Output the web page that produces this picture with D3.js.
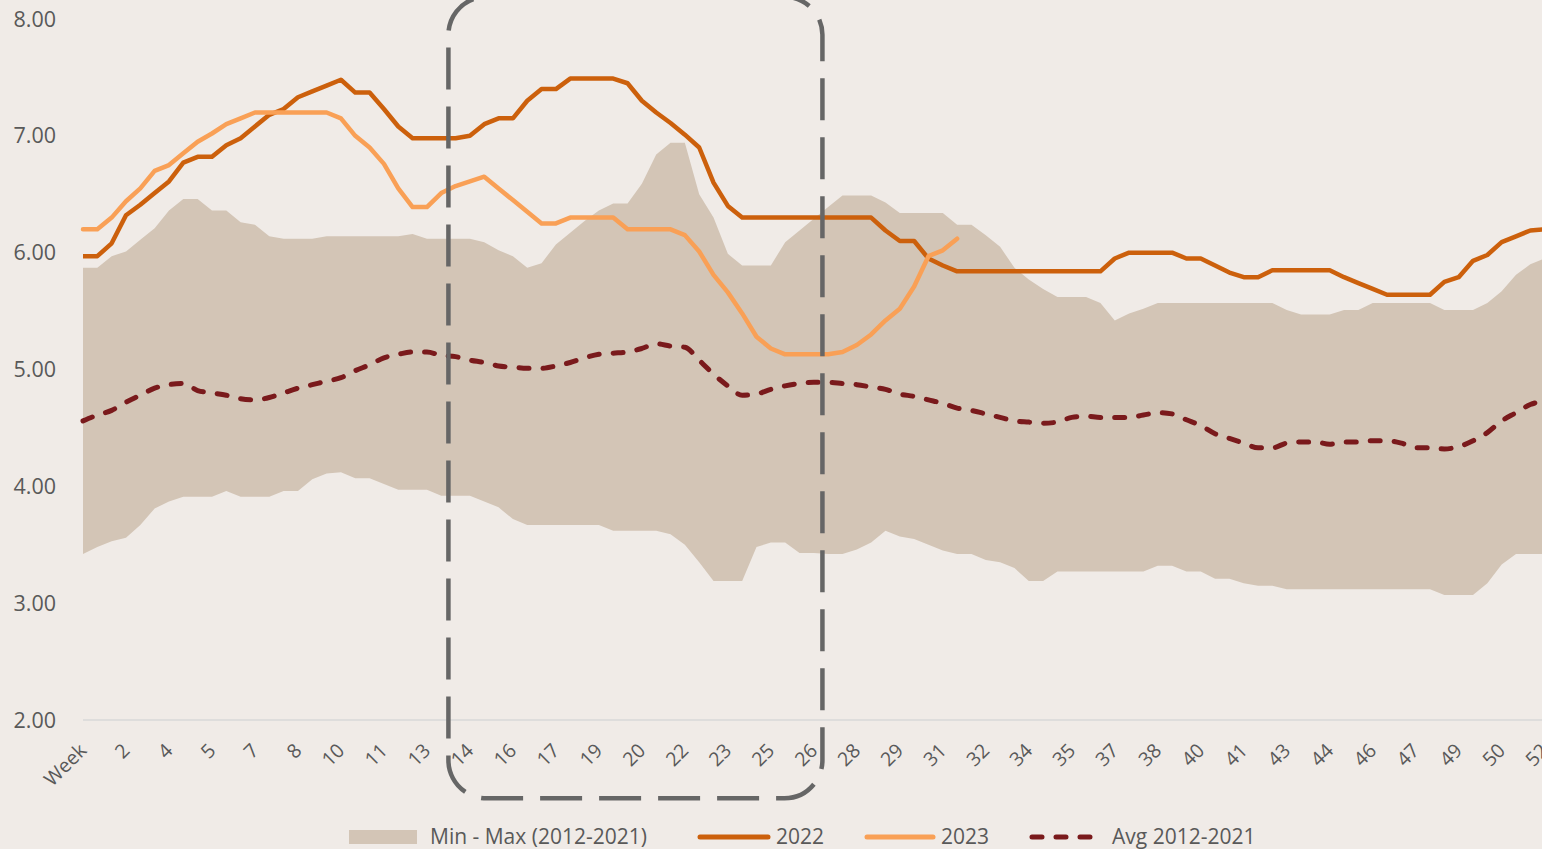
<!DOCTYPE html>
<html>
<head>
<meta charset="utf-8">
<script src="https://cdn.jsdelivr.net/npm/d3@7"></script>
<style>
  html, body { margin: 0; padding: 0; background: #F0EBE7; }
  svg { display: block; }
  text { font-family: "Open Sans", sans-serif; fill: #595959; }
</style>
</head>
<body>
<svg id="chart" width="1542" height="849"></svg>
<script>
"use strict";

var weeks = ["Week", "1", "2", "2", "3", "3", "4", "4", "5", "5", "6", "6", "7", "7", "8", "8", "9", "9",
  "10", "10", "11", "11", "12", "12", "13", "13", "14", "14", "15", "15", "16", "16", "17", "17",
  "18", "18", "19", "19", "20", "20", "21", "21", "22", "22", "23", "23", "24", "24", "25", "25",
  "26", "26", "27", "27", "28", "28", "29", "29", "30", "30", "31", "31", "32", "32", "33", "33",
  "34", "34", "35", "35", "36", "36", "37", "37", "38", "38", "39", "39", "40", "40", "41", "41",
  "42", "42", "43", "43", "44", "44", "45", "45", "46", "46", "47", "47", "48", "48", "49", "49",
  "50", "50", "51", "51", "52"];

var minValues = [3.42, 3.48, 3.53, 3.56, 3.67, 3.81, 3.87, 3.91, 3.91, 3.91, 3.96, 3.91, 3.91, 3.91, 3.96, 3.96, 4.06, 4.11,
  4.12, 4.07, 4.07, 4.02, 3.97, 3.97, 3.97, 3.92, 3.92, 3.92, 3.87, 3.82, 3.72, 3.67, 3.67, 3.67, 3.67, 3.67, 3.67,
  3.62, 3.62, 3.62, 3.62, 3.59, 3.50, 3.35, 3.19, 3.19, 3.19, 3.48, 3.52, 3.52, 3.43, 3.43, 3.42, 3.42, 3.46, 3.52,
  3.62, 3.57, 3.55, 3.50, 3.45, 3.42, 3.42, 3.37, 3.35, 3.30, 3.19, 3.19, 3.27, 3.27, 3.27, 3.27, 3.27, 3.27, 3.27,
  3.32, 3.32, 3.27, 3.27, 3.21, 3.21, 3.17, 3.15, 3.15, 3.12, 3.12, 3.12, 3.12, 3.12, 3.12, 3.12, 3.12, 3.12, 3.12,
  3.12, 3.07, 3.07, 3.07, 3.17, 3.33, 3.42, 3.42, 3.42];

var maxValues = [5.87, 5.87, 5.97, 6.01, 6.11, 6.21, 6.36, 6.46, 6.46, 6.36, 6.36, 6.26, 6.24, 6.14, 6.12, 6.12, 6.12, 6.14,
  6.14, 6.14, 6.14, 6.14, 6.14, 6.16, 6.12, 6.12, 6.12, 6.12, 6.09, 6.02, 5.97, 5.87, 5.91, 6.07, 6.17, 6.27, 6.36,
  6.42, 6.42, 6.59, 6.84, 6.94, 6.94, 6.50, 6.30, 5.99, 5.89, 5.89, 5.89, 6.09, 6.19, 6.29, 6.39, 6.49, 6.49, 6.49,
  6.43, 6.34, 6.34, 6.34, 6.34, 6.24, 6.24, 6.15, 6.05, 5.87, 5.77, 5.69, 5.62, 5.62, 5.62, 5.57, 5.42, 5.48, 5.52,
  5.57, 5.57, 5.57, 5.57, 5.57, 5.57, 5.57, 5.57, 5.57, 5.51, 5.47, 5.47, 5.47, 5.51, 5.51, 5.57, 5.57, 5.57, 5.57,
  5.57, 5.51, 5.51, 5.51, 5.57, 5.67, 5.81, 5.90, 5.95];

var avgValues = [4.56, 4.61, 4.65, 4.72, 4.78, 4.84, 4.87, 4.88, 4.82, 4.80, 4.78, 4.75, 4.74, 4.76, 4.80, 4.84, 4.87, 4.90,
  4.93, 4.99, 5.04, 5.10, 5.13, 5.15, 5.15, 5.12, 5.11, 5.08, 5.06, 5.03, 5.02, 5.01, 5.01, 5.03, 5.06, 5.10, 5.13,
  5.14, 5.15, 5.18, 5.22, 5.20, 5.19, 5.08, 4.96, 4.86, 4.78, 4.79, 4.83, 4.86, 4.88, 4.89, 4.89, 4.88, 4.87, 4.85,
  4.83, 4.79, 4.77, 4.74, 4.71, 4.67, 4.65, 4.62, 4.59, 4.56, 4.55, 4.54, 4.55, 4.59, 4.60, 4.59, 4.59, 4.59, 4.61,
  4.63, 4.62, 4.57, 4.52, 4.45, 4.41, 4.37, 4.33, 4.33, 4.37, 4.38, 4.38, 4.36, 4.38, 4.38, 4.39, 4.39, 4.37, 4.33,
  4.33, 4.32, 4.34, 4.39, 4.46, 4.56, 4.63, 4.70, 4.73];

var values2022 = [5.97, 5.97, 6.08, 6.32, 6.41, 6.51, 6.61, 6.77, 6.82, 6.82, 6.92, 6.98, 7.08, 7.18, 7.23, 7.33, 7.38, 7.43,
  7.48, 7.37, 7.37, 7.23, 7.08, 6.98, 6.98, 6.98, 6.98, 7.00, 7.10, 7.15, 7.15, 7.30, 7.40, 7.40, 7.49, 7.49, 7.49,
  7.49, 7.45, 7.30, 7.20, 7.11, 7.01, 6.90, 6.60, 6.40, 6.30, 6.30, 6.30, 6.30, 6.30, 6.30, 6.30, 6.30, 6.30, 6.30,
  6.19, 6.10, 6.10, 5.95, 5.89, 5.84, 5.84, 5.84, 5.84, 5.84, 5.84, 5.84, 5.84, 5.84, 5.84, 5.84, 5.95, 6.00, 6.00,
  6.00, 6.00, 5.95, 5.95, 5.89, 5.83, 5.79, 5.79, 5.85, 5.85, 5.85, 5.85, 5.85, 5.79, 5.74, 5.69, 5.64, 5.64, 5.64,
  5.64, 5.75, 5.79, 5.93, 5.98, 6.09, 6.14, 6.19, 6.20];

var values2023 = [6.20, 6.20, 6.30, 6.44, 6.55, 6.70, 6.75, 6.85, 6.95, 7.02, 7.10, 7.15, 7.20, 7.20, 7.20, 7.20, 7.20, 7.20,
  7.15, 7.00, 6.90, 6.76, 6.55, 6.39, 6.39, 6.51, 6.57, 6.61, 6.65, 6.55, 6.45, 6.35, 6.25, 6.25, 6.30, 6.30, 6.30,
  6.30, 6.20, 6.20, 6.20, 6.20, 6.15, 6.01, 5.81, 5.66, 5.48, 5.28, 5.18, 5.13, 5.13, 5.13, 5.13, 5.15, 5.21, 5.30,
  5.42, 5.52, 5.71, 5.97, 6.02, 6.12];

var yTicks = [2, 3, 4, 5, 6, 7, 8];
// dashed highlight box, in category index / value units
var highlightBox = { from: 25.5, to: 51.6, top: 8.19, bottom: 1.33 };

var COLOR_BAND = "#D3C5B6";
var COLOR_2022 = "#CC600C";
var COLOR_2023 = "#F9A056";
var COLOR_AVG = "#7A1A1C";

var svg = d3.select("#chart");

var x = d3.scaleLinear().domain([0, weeks.length - 1]).range([83, 83 + 102 * 14.33]);
var y = d3.scaleLinear().domain([2, 8]).range([720, 19]);

// band
var area = d3.area()
    .x(function (d, i) { return x(i); })
    .y0(function (d, i) { return y(minValues[i]); })
    .y1(function (d) { return y(d); });

svg.append("path")
  .datum(maxValues)
  .attr("fill", COLOR_BAND)
  .attr("d", area);

// axes
svg.append("line")
  .attr("x1", x(0)).attr("x2", 1542)
  .attr("y1", y(2)).attr("y2", y(2))
  .attr("stroke", "#D9D9D9")
  .attr("stroke-width", 1.5);

svg.append("g")
  .selectAll("text")
  .data(yTicks)
  .enter()
  .append("text")
  .attr("x", 56)
  .attr("y", function (d) { return y(d); })
  .attr("dy", "0.35em")
  .attr("text-anchor", "end")
  .style("font-size", "21.5px")
  .text(d3.format(".2f"));

var tickIdx = d3.range(0, weeks.length, 3);
svg.append("g")
  .selectAll("text")
  .data(tickIdx)
  .enter()
  .append("text")
  .attr("transform", function (d) { return "translate(" + x(d) + ",747) rotate(-45)"; })
  .attr("dy", "0.35em")
  .attr("text-anchor", "end")
  .style("font-size", "19.5px")
  .text(function (d) { return weeks[d]; });

// lines
var lineGen = d3.line()
    .x(function (d, i) { return x(i); })
    .y(function (d) { return y(d); });

svg.append("path")
  .datum(avgValues)
  .attr("fill", "none")
  .attr("stroke", COLOR_AVG)
  .attr("stroke-width", 5)
  .attr("stroke-linecap", "round")
  .attr("stroke-dasharray", "10,14")
  .attr("d", lineGen.curve(d3.curveMonotoneX));

lineGen.curve(d3.curveLinear);

svg.append("path")
  .datum(values2022)
  .attr("fill", "none")
  .attr("stroke", COLOR_2022)
  .attr("stroke-width", 4.5)
  .attr("stroke-linejoin", "round")
  .attr("d", lineGen);

svg.append("path")
  .datum(values2023)
  .attr("fill", "none")
  .attr("stroke", COLOR_2023)
  .attr("stroke-width", 4.5)
  .attr("stroke-linejoin", "round")
  .attr("stroke-linecap", "round")
  .attr("d", lineGen);

// highlight box
svg.append("rect")
  .attr("x", x(highlightBox.from))
  .attr("y", y(highlightBox.top))
  .attr("width", x(highlightBox.to) - x(highlightBox.from))
  .attr("height", y(highlightBox.bottom) - y(highlightBox.top))
  .attr("rx", 38)
  .attr("fill", "none")
  .attr("stroke", "#666666")
  .attr("stroke-width", 4.5)
  .attr("stroke-dasharray", "42,17")
  .attr("stroke-dashoffset", 12);

// legend
var legend = svg.append("g").attr("transform", "translate(0,837)");

legend.append("rect")
  .attr("x", 349).attr("y", -7)
  .attr("width", 68).attr("height", 14)
  .attr("fill", COLOR_BAND);

var legendLines = [
  { x1: 700, x2: 768, color: COLOR_2022, dash: null },
  { x1: 867, x2: 933, color: COLOR_2023, dash: null },
  { x1: 1032, x2: 1093, color: COLOR_AVG, dash: "10,14" }
];

legend.selectAll("line.key")
  .data(legendLines)
  .enter()
  .append("line")
  .attr("class", "key")
  .attr("x1", function (d) { return d.x1; })
  .attr("x2", function (d) { return d.x2; })
  .attr("y1", 0).attr("y2", 0)
  .attr("stroke", function (d) { return d.color; })
  .attr("stroke-width", 5)
  .attr("stroke-linecap", "round")
  .attr("stroke-dasharray", function (d) { return d.dash; });

var legendLabels = [
  { x: 430, text: "Min - Max (2012-2021)" },
  { x: 776, text: "2022" },
  { x: 941, text: "2023" },
  { x: 1112, text: "Avg 2012-2021" }
];

legend.selectAll("text")
  .data(legendLabels)
  .enter()
  .append("text")
  .attr("x", function (d) { return d.x; })
  .attr("dy", "0.35em")
  .style("font-size", "21px")
  .text(function (d) { return d.text; });
</script>
</body>
</html>
